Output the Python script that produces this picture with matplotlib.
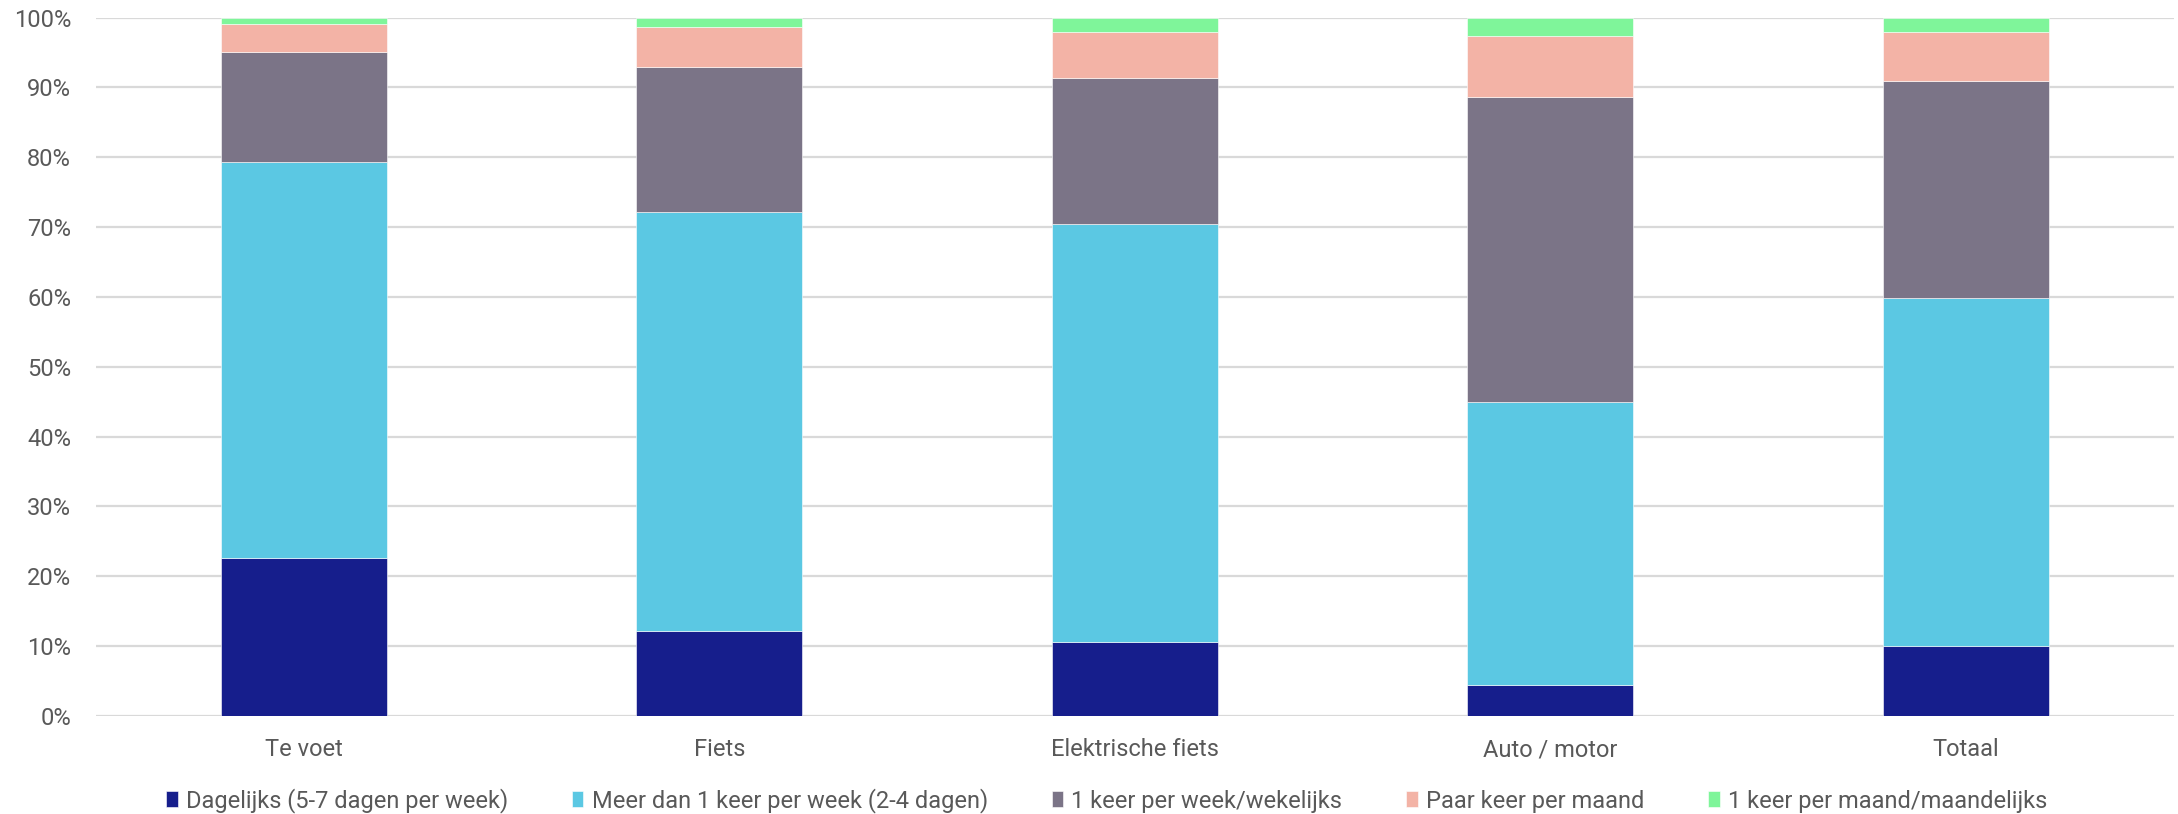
import matplotlib
matplotlib.use("Agg")
import matplotlib.pyplot as plt
import numpy as np
from matplotlib.ticker import PercentFormatter

plt.rcParams['font.family'] = ['Roboto', 'DejaVu Sans']

categories = ["Te voet", "Fiets", "Elektrische fiets", "Auto / motor", "Totaal"]
series_names = ["Dagelijks (5-7 dagen per week)",
                "Meer dan 1 keer per week (2-4 dagen)",
                "1 keer per week/wekelijks",
                "Paar keer per maand",
                "1 keer per maand/maandelijks"]
dagelijks = [22.6, 12.2, 10.6, 4.5, 10.0]
meer_dan_1 = [56.7, 59.9, 59.9, 40.5, 49.8]
wekelijks = [15.8, 20.8, 20.9, 43.6, 31.2]
paar_keer = [4.0, 5.8, 6.6, 8.8, 7.0]
maandelijks = [0.9, 1.3, 2.0, 2.6, 2.0]
colors = ["#161E8C", "#5BC8E3", "#7B7487", "#F3B3A6", "#7FF59A"]

series = [dagelijks, meer_dan_1, wekelijks, paar_keer, maandelijks]

fig = plt.figure(figsize=(21.78, 8.14), dpi=100)
ax = fig.add_axes([0.0441, 0.1204, 0.9539, 0.8579])

x = np.arange(len(categories))
bottom = np.zeros(len(categories))
for name, vals, col in zip(series_names, series, colors):
    v = np.array(vals, dtype=float)
    ax.bar(x, v, 0.4, bottom=bottom, color=col, label=name, zorder=3,
           edgecolor="white", linewidth=0.4)
    bottom += v

ax.set_xlim(-0.5, len(categories) - 0.5)
ax.set_ylim(0, 100)
ax.set_yticks(np.arange(0, 101, 10))
ax.yaxis.set_major_formatter(PercentFormatter(decimals=0))
ax.set_xticks(x)
ax.set_xticklabels(categories)
ax.tick_params(axis='both', length=0, labelsize=17, labelcolor="#595959")
ax.tick_params(axis='x', pad=16)
ax.tick_params(axis='y', pad=18)
ax.grid(axis='y', color="#D9D9D9", linewidth=1.6, zorder=0)
for s in ax.spines.values():
    s.set_visible(False)

leg = fig.legend(loc="lower center", bbox_to_anchor=(0.508, -0.025), ncol=5,
                 frameon=False, fontsize=17, handlelength=0.5, handleheight=0.65,
                 handletextpad=0.34, columnspacing=2.7)
for t in leg.get_texts():
    t.set_color("#595959")

fig.savefig("out.png", dpi=100)
